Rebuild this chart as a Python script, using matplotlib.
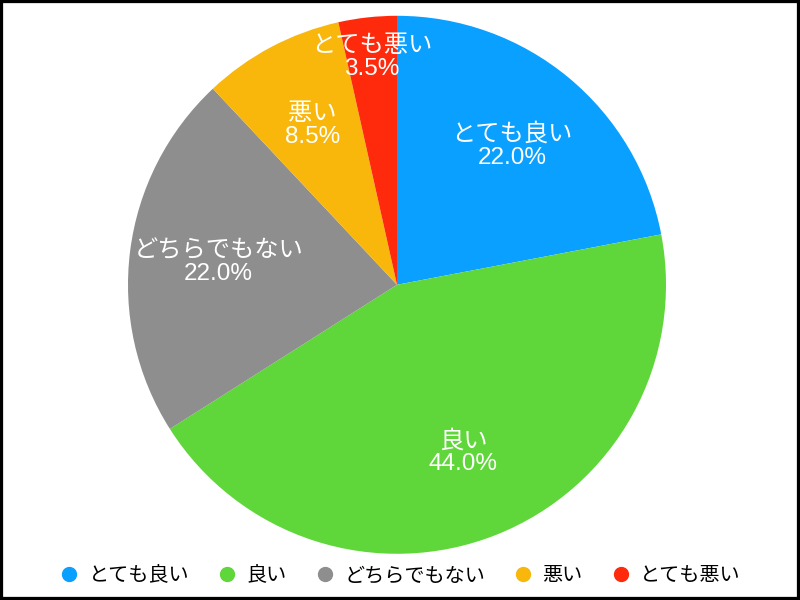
import matplotlib
matplotlib.use("Agg")
import numpy as np
import matplotlib.pyplot as plt
from matplotlib.lines import Line2D
from matplotlib.patches import Rectangle

plt.rcParams['font.family'] = ['Liberation Sans', 'Noto Sans CJK JP', 'DejaVu Sans']

categories = ["とても良い", "良い", "どちらでもない", "悪い", "とても悪い"]
shares = [22.0, 44.0, 22.0, 8.5, 3.5]
colors = ["#0AA0FF", "#5FD63A", "#8E8E8E", "#F8B70A", "#FF2A0C"]
# radial position of each wedge label, as a fraction of the radius
label_radius = [0.67, 0.67, 0.67, 0.67, 0.85]

fig = plt.figure(figsize=(8, 6), dpi=100)
ax = fig.add_axes([0.16, 0.077, 0.6725, 0.8967])

wedges, _ = ax.pie(
    shares, colors=colors, startangle=90, counterclock=False,
    radius=1.0, wedgeprops=dict(linewidth=0),
)
for w, c, v, r in zip(wedges, categories, shares, label_radius):
    mid = np.deg2rad((w.theta1 + w.theta2) / 2)
    ax.text(r * np.cos(mid), r * np.sin(mid), f"{c}\n{v:.1f}%",
            color="white", fontsize=17.5, ha="center", va="center",
            linespacing=1.05)

ax.set_xlim(-1, 1)
ax.set_ylim(-1, 1)
ax.set_aspect("equal")
ax.axis("off")

handles = [Line2D([], [], marker="o", linestyle="none", markersize=10,
                  markerfacecolor=c, markeredgecolor=c) for c in colors]
fig.legend(handles, categories, loc="center", bbox_to_anchor=(0.5, 1 - 576 / 600),
           ncol=5, frameon=False, fontsize=14.5, handletextpad=0.45,
           columnspacing=1.4, handlelength=1.0)

fig.patches.append(Rectangle((0, 0), 1, 1, transform=fig.transFigure,
                             fill=False, edgecolor="black", linewidth=4.5))

fig.savefig("out.png", dpi=100)
